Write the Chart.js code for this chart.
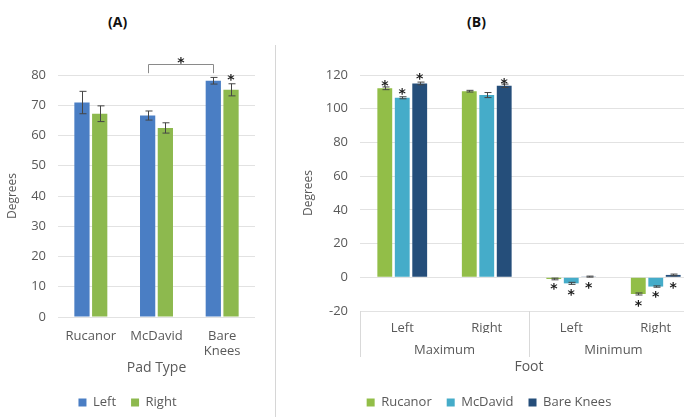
<!DOCTYPE html>
<html>
<head>
<meta charset="utf-8">
<script src="https://cdn.jsdelivr.net/npm/chart.js@4.4.1/dist/chart.umd.min.js"></script>
<style>
  html, body { margin: 0; padding: 0; background: #fff; }
  body { width: 684px; height: 417px; overflow: hidden; position: relative; font-family: 'Open Sans', sans-serif; }
  .panel-title { position: absolute; top: 12px; font: bold 14px 'Open Sans', sans-serif; color: #111; }
  #divider { position: absolute; left: 275px; top: 45px; width: 1px; height: 372px; background: #d6d6d6; }
  #wrapA { position: absolute; left: 0; top: 0; width: 275px; height: 417px; }
  #wrapB { position: absolute; left: 280px; top: 0; width: 420px; height: 417px; }
</style>
</head>
<body>
<div class="panel-title" style="left:108px">(A)</div>
<div class="panel-title" style="left:467px">(B)</div>
<div id="divider"></div>
<div id="wrapA"><canvas id="chart-a" width="275" height="417"></canvas></div>
<div id="wrapB"><canvas id="chart-b" width="420" height="417"></canvas></div>
<script>
// ---- Panel A: knee angle by pad type ----
const padTypes = ['Rucanor', 'McDavid', ['Bare', 'Knees']];
const leftA = [70.9, 66.6, 78.1];
const leftAErr = [3.7, 1.5, 1.1];
const rightA = [67.2, 62.5, 75.1];
const rightAErr = [2.6, 1.7, 2.0];
const rightAStars = [null, null, 79.4];
// bracket between McDavid and Bare Knees (Left bars)
const bracketA = { from: 1, to: 2, top: 83.6, legs: 80.6, star: 85.2 };

// ---- Panel B: foot angle ----
const footSides = ['Left', 'Right', 'Left', 'Right'];
const footGroups = ['Maximum', 'Minimum'];
const rucanorB = [112.1, 110.4, -1.0, -9.9];
const rucanorBErr = [0.8, 0.5, 0.5, 0.6];
const rucanorBStars = [115.8, null, -4.9, -14.9];
const mcdavidB = [106.5, 108.1, -3.6, -5.5];
const mcdavidBErr = [0.6, 1.5, 0.6, 0.4];
const mcdavidBStars = [110.6, null, -8.5, -9.3];
const bareB = [115.0, 113.6, 0.4, 1.4];
const bareBErr = [0.8, 1.0, 0.3, 0.5];
const bareBStars = [120.0, 116.6, -4.0, -4.0];

const tickColor = '#595959';
const gridColor = '#e2e2e2';
Chart.defaults.font.family = "'Open Sans', sans-serif";
Chart.defaults.color = tickColor;
Chart.defaults.animation = false;

const errorBars = {
    id: 'errorBars',
    afterDatasetsDraw(chart) {
        const ctx = chart.ctx;
        const y = chart.scales.y;
        ctx.save();
        ctx.strokeStyle = '#454545';
        ctx.lineWidth = 1;
        chart.data.datasets.forEach((ds, i) => {
            if (!ds.errors) return;
            chart.getDatasetMeta(i).data.forEach((bar, j) => {
                const v = ds.data[j], e = ds.errors[j];
                const y1 = y.getPixelForValue(v + e), y2 = y.getPixelForValue(v - e);
                const x = Math.round(bar.x) + 0.5;
                ctx.beginPath();
                ctx.moveTo(x, y1); ctx.lineTo(x, y2);
                ctx.moveTo(x - 3, y1); ctx.lineTo(x + 4, y1);
                ctx.moveTo(x - 3, y2); ctx.lineTo(x + 4, y2);
                ctx.stroke();
            });
        });
        ctx.restore();
    }
};

function drawStar(ctx, x, yPix) {
    ctx.fillText('*', x, yPix + 4);
}

const stars = {
    id: 'stars',
    afterDatasetsDraw(chart) {
        const ctx = chart.ctx;
        const y = chart.scales.y;
        ctx.save();
        ctx.fillStyle = '#1a1a1a';
        ctx.font = "bold 14px 'DejaVu Sans', sans-serif";
        ctx.textAlign = 'center';
        ctx.textBaseline = 'middle';
        chart.data.datasets.forEach((ds, i) => {
            if (!ds.stars) return;
            chart.getDatasetMeta(i).data.forEach((bar, j) => {
                if (ds.stars[j] == null) return;
                drawStar(ctx, bar.x, y.getPixelForValue(ds.stars[j]));
            });
        });
        const br = chart.options.plugins.stars.bracket;
        if (br) {
            const bars = chart.getDatasetMeta(0).data;
            const xa = Math.round(bars[br.from].x) + 0.5, xb = Math.round(bars[br.to].x) + 0.5;
            const yt = Math.round(y.getPixelForValue(br.top)) + 0.5, yl = y.getPixelForValue(br.legs);
            ctx.strokeStyle = '#8a8a8a';
            ctx.lineWidth = 1;
            ctx.beginPath();
            ctx.moveTo(xa, yl); ctx.lineTo(xa, yt); ctx.lineTo(xb, yt); ctx.lineTo(xb, yl);
            ctx.stroke();
            drawStar(ctx, (xa + xb) / 2, y.getPixelForValue(br.star));
        }
        ctx.restore();
    }
};

const groupDividers = {
    id: 'groupDividers',
    afterDraw(chart) {
        const opts = chart.options.plugins.groupDividers;
        if (!opts || !opts.groups) return;
        const ctx = chart.ctx, area = chart.chartArea;
        const w = (area.right - area.left) / opts.groups;
        ctx.save();
        ctx.strokeStyle = '#d9d9d9';
        ctx.lineWidth = 1;
        ctx.beginPath();
        for (let g = 0; g <= opts.groups; g++) {
            const x = Math.round(area.left + g * w) + 0.5;
            ctx.moveTo(x, area.bottom);
            ctx.lineTo(x, area.bottom + opts.length);
        }
        ctx.stroke();
        ctx.restore();
    }
};

const legendOpts = {
    display: true,
    position: 'bottom',
    labels: { usePointStyle: true, pointStyle: 'rect', boxWidth: 8, boxHeight: 8, padding: 15, font: { size: 13 }, color: tickColor }
};

new Chart(document.getElementById('chart-a'), {
    type: 'bar',
    data: {
        labels: padTypes,
        datasets: [
            { label: 'Left', data: leftA, errors: leftAErr, backgroundColor: '#4a7ec4' },
            { label: 'Right', data: rightA, errors: rightAErr, stars: rightAStars, backgroundColor: '#8db94e' }
        ]
    },
    options: {
        responsive: false,
        categoryPercentage: 0.54,
        barPercentage: 0.86,
        layout: { padding: { top: 75, right: 20, left: 0, bottom: -2 } },
        plugins: {
            legend: legendOpts,
            tooltip: { enabled: false },
            stars: { bracket: bracketA }
        },
        scales: {
            x: {
                grid: { display: false },
                border: { display: false },
                ticks: { padding: 3, font: { size: 13, lineHeight: 1.2 }, color: tickColor },
                title: { display: true, text: 'Pad Type', font: { size: 14 }, color: tickColor, padding: { top: 0, bottom: 5 } },
                afterFit(scale) { scale.height = 64; }
            },
            y: {
                min: 0, max: 80,
                ticks: { stepSize: 10, padding: 12, font: { size: 13 }, color: tickColor },
                grid: { color: gridColor, drawTicks: false },
                border: { display: false },
                title: { display: true, text: 'Degrees', font: { size: 12 }, color: tickColor, padding: { top: 5, bottom: 0 } },
                afterFit(scale) { scale.width = 58; }
            }
        }
    },
    plugins: [errorBars, stars]
});

new Chart(document.getElementById('chart-b'), {
    type: 'bar',
    data: {
        labels: footSides,
        datasets: [
            { label: 'Rucanor', data: rucanorB, errors: rucanorBErr, stars: rucanorBStars, backgroundColor: '#92be48' },
            { label: 'McDavid', data: mcdavidB, errors: mcdavidBErr, stars: mcdavidBStars, backgroundColor: '#45acc9' },
            { label: 'Bare Knees', data: bareB, errors: bareBErr, stars: bareBStars, backgroundColor: '#254e7a' }
        ]
    },
    options: {
        responsive: false,
        categoryPercentage: 0.62,
        barPercentage: 0.85,
        layout: { padding: { top: 75, right: 2, left: 0, bottom: -2 } },
        plugins: {
            legend: legendOpts,
            tooltip: { enabled: false },
            stars: {},
            groupDividers: { groups: 2, length: 46 }
        },
        scales: {
            x: {
                grid: { display: false },
                border: { display: false },
                ticks: { padding: 1, font: { size: 13 }, color: tickColor },
                afterFit(scale) { scale.height = 22; }
            },
            x2: {
                type: 'category',
                position: 'bottom',
                labels: footGroups,
                grid: { display: false },
                border: { display: false },
                ticks: { padding: 1, font: { size: 13 }, color: tickColor },
                title: { display: true, text: 'Foot', font: { size: 14 }, color: tickColor, padding: { top: 0, bottom: 6 } },
                afterFit(scale) { scale.height = 48; }
            },
            y: {
                min: -20, max: 120,
                ticks: { stepSize: 20, padding: 12, font: { size: 13 }, color: tickColor },
                grid: { color: gridColor, drawTicks: false },
                border: { display: false },
                title: { display: true, text: 'Degrees', font: { size: 12 }, color: tickColor, padding: { top: 21, bottom: 0 } },
                afterFit(scale) { scale.width = 80; }
            }
        }
    },
    plugins: [errorBars, stars, groupDividers]
});
</script>
</body>
</html>
